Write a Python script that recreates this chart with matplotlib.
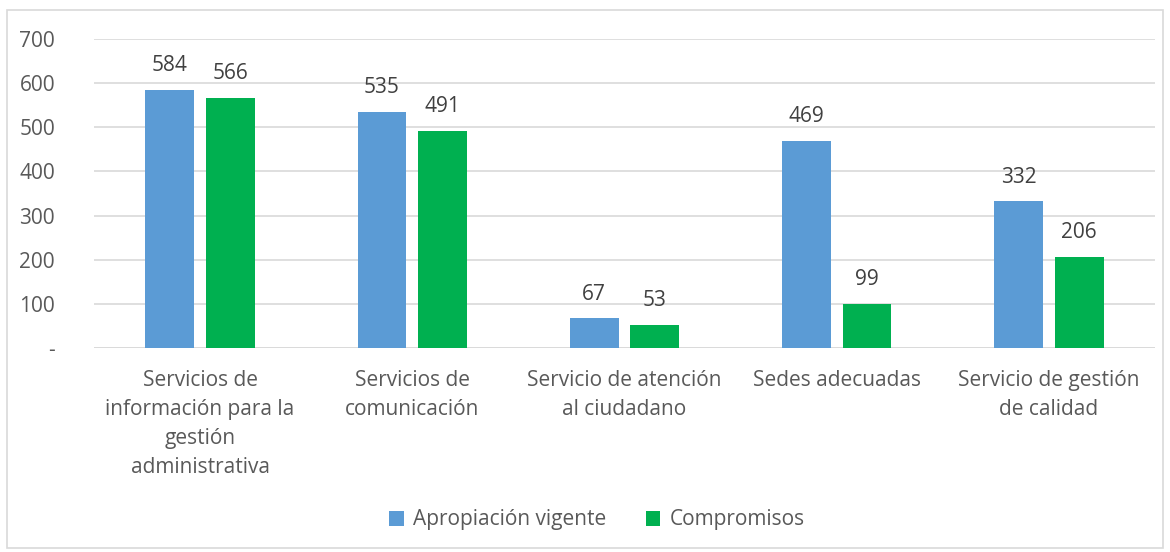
import matplotlib
matplotlib.use("Agg")
import matplotlib.pyplot as plt
import numpy as np
from matplotlib.patches import Rectangle

categories = ["Servicios de\ninformación para la\ngestión\nadministrativa",
              "Servicios de\ncomunicación",
              "Servicio de atención\nal ciudadano",
              "Sedes adecuadas",
              "Servicio de gestión\nde calidad"]
apropiacion = [584, 535, 67, 469, 332]
compromisos = [566, 491, 53, 99, 206]
series_names = ["Apropiación vigente", "Compromisos"]
yticks = [0, 100, 200, 300, 400, 500, 600, 700]

plt.rcParams['font.family'] = ['Open Sans', 'DejaVu Sans']
TXT = "#595959"
BLUE = "#5B9BD5"
GREEN = "#00B050"
FS = 15

fig = plt.figure(figsize=(11.7, 5.52), dpi=100)
fig.patches.append(Rectangle((7/1170, 4/552), 1156/1170, 538/552, transform=fig.transFigure,
                             fill=False, edgecolor="#D9D9D9", linewidth=1.2))
ax = fig.add_axes([94/1170, 204/552, 1061/1170, 309/552])

x = np.arange(len(categories))
w = 0.23
off = 0.143
b1 = ax.bar(x - off, apropiacion, w, color=BLUE, label=series_names[0], zorder=3)
b2 = ax.bar(x + off, compromisos, w, color=GREEN, label=series_names[1], zorder=3)
for bars in (b1, b2):
    for r in bars:
        ax.annotate(f"{int(r.get_height())}", (r.get_x() + r.get_width()/2, r.get_height()),
                    xytext=(0, 10), textcoords="offset points", ha="center", va="bottom",
                    fontsize=FS, color="#404040")

ax.set_xlim(-0.5, len(categories) - 0.5)
ax.set_ylim(0, 700)
ax.set_yticks(yticks)
ax.set_yticklabels(["-" if v == 0 else str(v) for v in yticks])
ax.set_xticks(x)
ax.set_xticklabels(categories, fontsize=FS, color=TXT, linespacing=1.5)
ax.tick_params(axis='y', labelsize=FS, labelcolor=TXT, length=0, pad=28)
ax.tick_params(axis='x', length=0, pad=16)
ax.grid(axis='y', color="#D9D9D9", linewidth=1.2, zorder=0)
for s in ax.spines.values():
    s.set_visible(False)
ax.axhline(0, color="#D9D9D9", linewidth=1.2, zorder=1)

leg = fig.legend(loc="center", bbox_to_anchor=(597/1170, 1 - 520/552), ncol=2, frameon=False,
                 fontsize=FS, handlelength=0.7, handleheight=0.7, columnspacing=1.9,
                 handletextpad=0.45)
for t in leg.get_texts():
    t.set_color(TXT)

fig.savefig("out.png", dpi=100)
